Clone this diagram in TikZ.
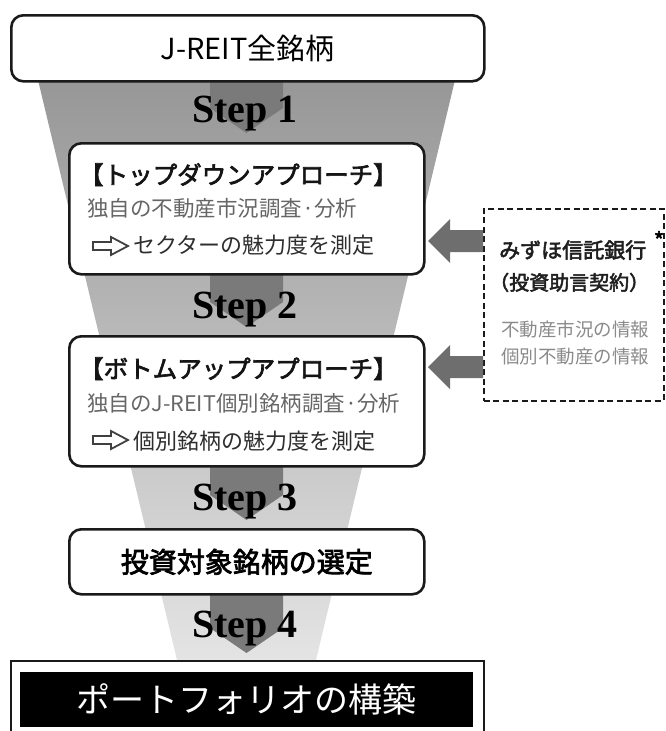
\documentclass[tikz,border=0pt]{standalone}
\usepackage{fontspec}
\usetikzlibrary{calc}
\newfontfamily\jp{Noto Sans CJK JP}
\newfontfamily\jpm[FakeBold=2.6]{Noto Sans CJK JP}
\newfontfamily\stepf{Liberation Serif}
\definecolor{funtop}{HTML}{979797}
\definecolor{funbot}{HTML}{E4E4E4}
\definecolor{stepgray}{HTML}{7A7A7A}
\definecolor{sidegray}{HTML}{6E6E6E}
\definecolor{subgray}{HTML}{666666}
\definecolor{dgray}{HTML}{2E2E2E}
\definecolor{infogray}{HTML}{8A8A8A}
\definecolor{edge}{HTML}{1A1A1A}
\begin{document}
\begin{tikzpicture}[x=1pt,y=1pt,
  box/.style={draw=edge, line width=2.6pt, rounded corners=12pt, fill=white,
    anchor=north west, inner sep=0pt, minimum width=355pt},
  steplabel/.style={font=\stepf\bfseries\fontsize{40}{44}\selectfont, anchor=base, inner sep=0pt},
  head/.style={font=\jpm\fontsize{24.5}{28}\selectfont, text=black!92, anchor=base west, inner sep=0pt},
  sub/.style={font=\jp\fontsize{21.5}{26}\selectfont, text=subgray, anchor=base west, inner sep=0pt},
  res/.style={font=\jp\fontsize{22}{26}\selectfont, text=dgray, anchor=base west, inner sep=0pt},
  info/.style={font=\jp\fontsize{18.5}{22}\selectfont, text=infogray, anchor=base west, inner sep=0pt},
  mzt/.style={font=\jpm\fontsize{21}{24}\selectfont, text=black!88, anchor=base west, inner sep=0pt},
  stepar/.style={fill=stepgray},
  sidear/.style={fill=sidegray},
  hollow/.style={draw=black!75, line width=1.8pt, fill=white, line join=miter}
]
\useasboundingbox (0,0) rectangle (665,-731);

% funnel
\shade[top color=funtop, bottom color=funbot] (38,-80) -- (455,-80) -- (316,-660) -- (177,-660) -- cycle;

% step arrows
\fill[stepar] (210,-80)  -- (283,-80)  -- (283,-108) -- (246.5,-133) -- (210,-108) -- cycle;
\fill[stepar] (210,-273) -- (283,-273) -- (283,-302) -- (246.5,-327) -- (210,-302) -- cycle;
\fill[stepar] (210,-465) -- (283,-465) -- (283,-495) -- (246.5,-520) -- (210,-495) -- cycle;
\fill[stepar] (210,-593) -- (283,-593) -- (283,-628) -- (246.5,-653) -- (210,-628) -- cycle;

% boxes
\node[box, minimum width=473pt, minimum height=66pt,
  font=\jp\fontsize{29}{32}\selectfont] (all) at (10,-14) {J-REIT全銘柄};
\node[box, minimum height=131pt] (td) at (68,-142) {};
\node[box, minimum height=130pt] (bu) at (68,-335) {};
\node[box, minimum height=65pt,
  font=\jpm\fontsize{28}{30}\selectfont] (sel) at (68,-528) {投資対象銘柄の選定};
\node[draw=edge, line width=1.8pt, fill=white, anchor=north west, inner sep=0pt,
  minimum width=473pt, minimum height=78pt] (pf) at (10,-660) {};
\node[fill=black, anchor=north west, inner sep=0pt, minimum width=453pt, minimum height=55pt,
  text=white, font=\jp\fontsize{34}{36}\selectfont] (pfb) at (20,-672) {ポートフォリオの構築};

% step labels
\node[steplabel] (s1) at (245,-122) {Step 1};
\node[steplabel] (s2) at (245,-318) {Step 2};
\node[steplabel] (s3) at (245,-510) {Step 3};
\node[steplabel] (s4) at (245,-637) {Step 4};

% top-down texts
\node[head] (tdh) at (79,-184) {【トップダウンアプローチ】};
\node[sub]  (tds) at (87,-216) {独自の不動産市況調査·分析};
\node[res]  (tdr) at (133,-253) {セクターの魅力度を測定};
\draw[hollow] (93,-242) -- (111,-242) -- (111,-237) -- (128,-246) -- (111,-255) -- (111,-250) -- (93,-250) -- cycle;

% bottom-up texts
\node[head] (buh) at (79,-378) {【ボトムアップアプローチ】};
\node[sub]  (bus) at (87,-411) {独自のJ-REIT個別銘柄調査·分析};
\node[res]  (bur) at (133,-449) {個別銘柄の魅力度を測定};
\draw[hollow] (93,-436) -- (111,-436) -- (111,-431) -- (128,-440) -- (111,-449) -- (111,-444) -- (93,-444) -- cycle;

% advisor box
\node[draw=edge, dashed, dash pattern=on 6pt off 3.5pt, line width=1.8pt, anchor=north west,
  inner sep=0pt, minimum width=180pt, minimum height=192pt] (mz) at (483,-208) {};
\node[mzt] (mz1) at (499,-258) {みずほ信託銀行};
\node[font=\jpm\fontsize{22}{24}\selectfont, inner sep=0pt] (ast) at (659,-240) {*};
\node[mzt, font=\jpm\fontsize{20}{24}\selectfont] (mz2) at (489,-290) {（投資助言契約）};
\node[info] (mz3) at (501,-336) {不動産市況の情報};
\node[info] (mz4) at (501,-363) {個別不動産の情報};

% side arrows
\coordinate (a1s) at (mz.west |- 0,-241);
\coordinate (a2s) at (mz.west |- 0,-367);
\fill[sidear] ($(a1s)+(0,11)$) -- (450,-230) -- (450,-219) -- (428,-241) -- (450,-263) -- (450,-252) -- ($(a1s)+(0,-11)$) -- cycle;
\fill[sidear] ($(a2s)+(0,11)$) -- (450,-356) -- (450,-345) -- (428,-367) -- (450,-389) -- (450,-378) -- ($(a2s)+(0,-11)$) -- cycle;
\end{tikzpicture}
\end{document}
